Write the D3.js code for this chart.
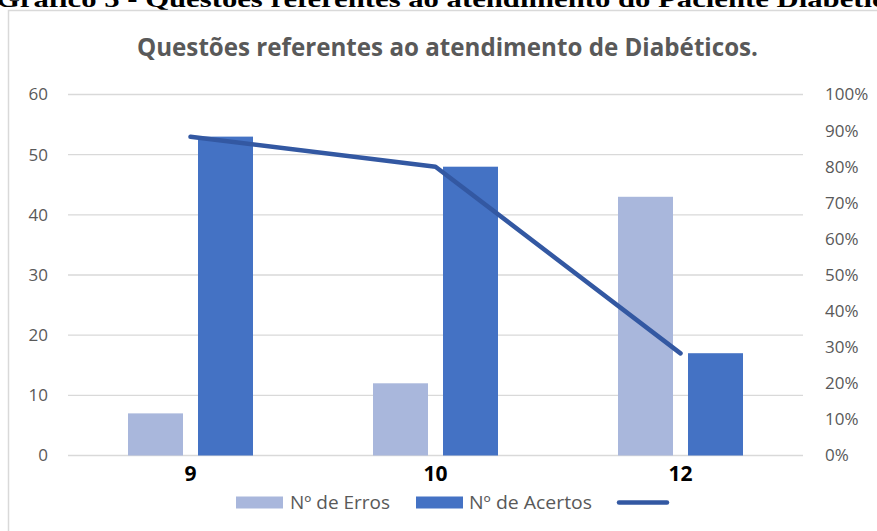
<!DOCTYPE html>
<html>
<head>
<meta charset="utf-8">
<script src="https://cdn.jsdelivr.net/npm/d3@7"></script>
<style>
  html, body { margin: 0; padding: 0; background: #fff; }
  svg { display: block; }
</style>
</head>
<body>
<div id="chart"></div>
<script>
// Data
const categories = ["9", "10", "12"];
const erros = [7, 12, 43];
const acertos = [53, 48, 17];
const percentAcertos = [0.883, 0.80, 0.283];
const leftTicks = [0, 10, 20, 30, 40, 50, 60];
const rightTicks = [0, 0.1, 0.2, 0.3, 0.4, 0.5, 0.6, 0.7, 0.8, 0.9, 1];

const W = 877, H = 531;
const plot = { left: 68, right: 803, top: 94.5, bottom: 455.5 };

const svg = d3.select('#chart')
    .append('svg')
    .attr('width', W)
    .attr('height', H);

// caption of the document, cut off at the top as in the source
svg.append('text')
    .attr('x', -4)
    .attr('y', 7)
    .attr('font-family', '"Liberation Serif", "Times New Roman", serif')
    .attr('font-weight', 'bold')
    .attr('font-size', 23)
    .attr('fill', '#000')
    .attr('textLength', 905)
    .attr('lengthAdjust', 'spacingAndGlyphs')
    .text('Gráfico 5 - Questões referentes ao atendimento do Paciente Diabético');

// chart frame
svg.append('rect')
    .attr('x', 8.5)
    .attr('y', 10.5)
    .attr('width', 900)
    .attr('height', 560)
    .attr('fill', '#fff')
    .attr('stroke', '#d9d9d9')
    .attr('stroke-width', 1.5);

// title
svg.append('text')
    .attr('x', 447.5)
    .attr('y', 56)
    .attr('text-anchor', 'middle')
    .attr('font-family', '"Open Sans", sans-serif')
    .attr('font-weight', 'bold')
    .attr('font-size', 25)
    .attr('fill', '#595959')
    .attr('textLength', 621)
    .attr('lengthAdjust', 'spacingAndGlyphs')
    .text('Questões referentes ao atendimento de Diabéticos.');

// Scales
const x0 = d3.scaleBand()
    .domain(categories)
    .range([plot.left, plot.right])
    .padding(0);

const groupW = 125;
const x1 = d3.scaleBand()
    .domain(['erros', 'acertos'])
    .range([(x0.bandwidth() - groupW) / 2, (x0.bandwidth() + groupW) / 2])
    .paddingInner(0.2143);

const yLeft = d3.scaleLinear().domain([0, 60]).range([plot.bottom, plot.top]);
const yRight = d3.scaleLinear().domain([0, 1]).range([plot.bottom, plot.top]);

// gridlines
svg.append('g')
    .selectAll('line')
    .data(leftTicks)
    .join('line')
    .attr('x1', plot.left)
    .attr('x2', plot.right)
    .attr('y1', d => yLeft(d))
    .attr('y2', d => yLeft(d))
    .attr('stroke', '#d9d9d9')
    .attr('stroke-width', 1.4);

// left axis labels
svg.append('g')
    .selectAll('text')
    .data(leftTicks)
    .join('text')
    .attr('x', 48)
    .attr('y', d => yLeft(d))
    .attr('dy', '0.35em')
    .attr('text-anchor', 'end')
    .attr('font-family', '"Open Sans", sans-serif')
    .attr('font-size', 17)
    .attr('fill', '#595959')
    .text(d => d);

// right axis labels
svg.append('g')
    .selectAll('text')
    .data(rightTicks)
    .join('text')
    .attr('x', 825)
    .attr('y', d => yRight(d))
    .attr('dy', '0.35em')
    .attr('font-family', '"Open Sans", sans-serif')
    .attr('font-size', 17)
    .attr('fill', '#595959')
    .text(d => d3.format('.0%')(d));

// bars
const barData = categories.map((c, i) => ({ cat: c, erros: erros[i], acertos: acertos[i] }));
const colors = { erros: '#a9b7dc', acertos: '#4472c4' };

const groups = svg.append('g')
    .selectAll('g')
    .data(barData)
    .join('g')
    .attr('transform', d => `translate(${x0(d.cat)},0)`);

groups.selectAll('rect')
    .data(d => ['erros', 'acertos'].map(k => ({ key: k, value: d[k] })))
    .join('rect')
    .attr('x', d => x1(d.key))
    .attr('width', x1.bandwidth())
    .attr('y', d => yLeft(d.value))
    .attr('height', d => yLeft(0) - yLeft(d.value))
    .attr('fill', d => colors[d.key]);

// x labels
svg.append('g')
    .selectAll('text')
    .data(categories)
    .join('text')
    .attr('x', d => x0(d) + x0.bandwidth() / 2)
    .attr('y', 481)
    .attr('text-anchor', 'middle')
    .attr('font-family', '"Open Sans", sans-serif')
    .attr('font-weight', 'bold')
    .attr('font-size', 21)
    .attr('fill', '#000')
    .text(d => d);

// percentage line
const lineGen = d3.line()
    .x((d, i) => x0(categories[i]) + x0.bandwidth() / 2)
    .y(d => yRight(d));

svg.append('path')
    .datum(percentAcertos)
    .attr('d', lineGen)
    .attr('fill', 'none')
    .attr('stroke', '#3358a2')
    .attr('stroke-width', 4.5)
    .attr('stroke-linecap', 'round')
    .attr('stroke-linejoin', 'round');

// legend
const legend = svg.append('g')
    .attr('font-family', '"Open Sans", sans-serif')
    .attr('font-size', 18)
    .attr('fill', '#595959');

legend.append('rect').attr('x', 236).attr('y', 496.5).attr('width', 47).attr('height', 12).attr('fill', colors.erros);
legend.append('text').attr('x', 290).attr('y', 502.5).attr('dy', '0.35em')
    .attr('textLength', 100).attr('lengthAdjust', 'spacingAndGlyphs')
    .text('Nº de Erros');

legend.append('rect').attr('x', 416).attr('y', 496.5).attr('width', 47).attr('height', 12).attr('fill', colors.acertos);
legend.append('text').attr('x', 469).attr('y', 502.5).attr('dy', '0.35em')
    .attr('textLength', 123).attr('lengthAdjust', 'spacingAndGlyphs')
    .text('Nº de Acertos');

legend.append('line')
    .attr('x1', 619).attr('x2', 667)
    .attr('y1', 502.5).attr('y2', 502.5)
    .attr('stroke', '#3358a2')
    .attr('stroke-width', 4.5)
    .attr('stroke-linecap', 'round');
</script>
</body>
</html>
